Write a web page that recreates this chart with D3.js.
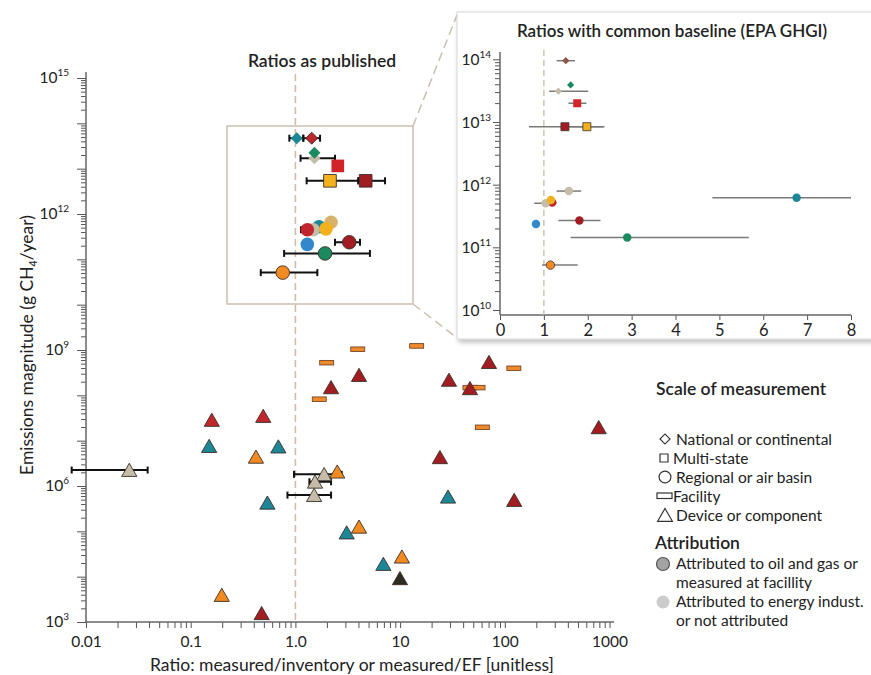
<!DOCTYPE html>
<html>
<head>
<meta charset="utf-8">
<script src="https://cdn.jsdelivr.net/npm/d3@7"></script>
<style>
  body { margin: 0; background: #fff; }
  svg text { font-family: Lato, "Noto Sans", sans-serif; fill: #222; }
</style>
</head>
<body>
<script>
// ---- data: "Ratios as published" (national, multi-state, regional) ----
const pubShape = ["diamond","diamond","diamond","diamond","square","square","square",
                  "circle","circle","circle","circle","circle","circle","circle","circle","circle"];
const pubGroup = ["teal","red","tan","green","brightred","yellow","darkred",
                  "teal","sandy","tan","red","yellow","blue","darkred","green","orange"];
const pubRatio = [1.03, 1.43, 1.52, 1.52, 2.54, 2.14, 4.69,
                  1.68, 2.19, 1.48, 1.30, 1.96, 1.30, 3.27, 1.92, 0.757];
const pubEmis  = [4.7e13, 4.7e13, 1.7e13, 2.25e13, 1.15e13, 5.4e12, 5.4e12,
                  5.25e11, 6.6e11, 4.5e11, 4.5e11, 4.7e11, 2.14e11, 2.38e11, 1.35e11, 5.1e10];
const pubLo    = [0.875, 1.19, 1.12, null, null, 1.28, 3.99,
                  null, null, null, 1.13, null, null, 2.39, 0.78, 0.467];
const pubHi    = [1.19, 1.72, 2.39, null, null, 3.99, 7.18,
                  null, null, null, 1.50, null, null, 4.14, 5.15, 1.62];
const pubAttr  = [false, true, false, false, false, true, true,
                  false, false, false, false, false, false, true, true, true];

// ---- data: facilities ----
const facRatio = [3.94, 14.4, 1.99, 1.69, 122, 46.5, 55.5, 61];
const facEmis  = [1.04e9, 1.23e9, 5.25e8, 8.2e7, 3.95e8, 1.48e8, 1.48e8, 1.97e7];

// ---- data: devices / components ----
const devGroup = ["red","red","teal","teal","orange","tan","teal","tan","orange","tan","tan",
                  "teal","orange","teal","orange","dark","orange","darkred",
                  "darkred","darkred","darkred","darkred","darkred","darkred","darkred","teal","darkred"];
const devRatio = [0.159, 0.493, 0.150, 0.687, 0.42, 0.0259, 0.54, 1.88, 2.51, 1.54, 1.51,
                  3.09, 4.05, 6.92, 10.4, 9.97, 0.198, 0.476,
                  2.19, 4.05, 70.6, 29.3, 46.5, 24.0, 123, 28.7, 789];
const devEmis  = [2.86e7, 3.5e7, 7.6e6, 7.4e6, 4.4e6, 2.25e6, 4.27e5, 1.81e6, 2.07e6, 1.24e6, 6.3e5,
                  9.4e4, 1.26e5, 1.9e4, 2.76e4, 9.2e3, 3.94e3, 1.56e3,
                  1.5e8, 2.8e8, 5.4e8, 2.19e8, 1.43e8, 4.3e6, 4.9e5, 5.8e5, 1.97e7];
const devLo    = [null,null,null,null,null,0.0073,null,0.97,null,1.36,0.84,
                  null,null,null,null,null,null,null, null,null,null,null,null,null,null,null,null];
const devHi    = [null,null,null,null,null,0.0388,null,2.77,null,2.19,2.19,
                  null,null,null,null,null,null,null, null,null,null,null,null,null,null,null,null];

// ---- data: inset, ratios with common baseline (EPA GHGI) ----
const insShape = ["diamond","diamond","diamond","square","square","square",
                  "circle","circle","circle","circle","circle","circle","circle","circle","circle"];
const insGroup = ["brown","tan","green","brightred","darkred","yellow",
                  "tan","teal","red","tan","yellow","blue","darkred","green","orange"];
const insRatio = [1.50, 1.33, 1.61, 1.76, 1.48, 1.98, 1.57, 6.76, 1.19, 1.04, 1.16, 0.82, 1.81, 2.90, 1.15];
const insEmis  = [9.5e13, 3.1e13, 3.9e13, 1.99e13, 8.4e12, 8.4e12, 7.9e11, 6.2e11, 5.2e11, 5.05e11,
                  5.7e11, 2.36e11, 2.67e11, 1.43e11, 5.2e10];
const insLo    = [1.29, 1.12, null, 1.56, 0.66, 1.60, 1.29, 4.84, null, 0.78, null, null, 1.33, 1.61, 0.96];
const insHi    = [1.71, 2.01, null, 1.97, 2.38, 2.35, 1.85, 8.0, null, 1.29, null, null, 2.29, 5.67, 1.77];
const insAttr  = [false, false, false, false, true, true, false, false, false, false, false, false, false, false, true];

// ---- tick labels ----
const xTickVals = [0.01, 0.1, 1, 10, 100, 1000];
const xTickText = ["0.01", "0.1", "1.0", "10", "100", "1000"];
const yLabelExp = [3, 6, 9, 12, 15];
const insXTicks = [0, 1, 2, 3, 4, 5, 6, 7, 8];
const insYExp   = [10, 11, 12, 13, 14];

const color = d3.scaleOrdinal()
  .domain(["teal","red","brightred","darkred","tan","green","yellow","blue","orange","brown","sandy","dark"])
  .range(["#1d8797","#c1262c","#d1232a","#a21d22","#c5bca9","#1b8a5e","#f3b11d","#3189cc","#f28a22","#8d5646","#d8b26a","#2e2b20"]);

const W = 871, H = 675;
const svg = d3.select("body").append("svg").attr("width", W).attr("height", H);

const defs = svg.append("defs");
defs.append("filter").attr("id", "shadow").attr("x", "-5%").attr("y", "-5%").attr("width", "115%").attr("height", "115%")
  .append("feDropShadow").attr("dx", 2).attr("dy", 3).attr("stdDeviation", 2.5)
  .attr("flood-color", "#000").attr("flood-opacity", 0.25);

// scales for the main panel
const x = d3.scaleLog().domain([0.01, 1000]).range([86, 609.5]);
const y = d3.scaleLog().domain([1e3, 1e15]).range([622, 78]);

function minorVals(lo, hi) {
  const out = [];
  for (let k = lo; k < hi; k++) for (let m = 2; m <= 9; m++) out.push(m * Math.pow(10, k));
  return out;
}
const shapeOf = {diamond: d3.symbolSquare, square: d3.symbolSquare, circle: d3.symbolCircle, triangle: d3.symbolTriangle};

function styleAxis(g) {
  g.selectAll("line").attr("stroke", "#555");
  g.select(".domain").remove();
}

// ---- main axes ----
svg.append("g").attr("transform", "translate(86,0)")
  .call(d3.axisLeft(y).tickValues(minorVals(3, 15)).tickSize(5).tickFormat("").tickSizeOuter(0)).call(styleAxis);
svg.append("g").attr("transform", "translate(86,0)")
  .call(d3.axisLeft(y).tickValues(d3.range(3, 16).map(k => Math.pow(10, k))).tickSize(9).tickFormat("").tickSizeOuter(0)).call(styleAxis);
svg.append("line").attr("x1", 86).attr("x2", 86).attr("y1", 72).attr("y2", y(1e3))
  .attr("stroke", "#666").attr("stroke-width", 1.5);

const yl = svg.append("g").selectAll("text").data(yLabelExp).join("text")
  .attr("x", 69).attr("y", d => y(Math.pow(10, d)) + 5).attr("text-anchor", "end")
  .attr("font-size", 15.5);
yl.append("tspan").text("10");
yl.append("tspan").attr("dy", -7).attr("font-size", 10).text(d => d);

svg.append("g").attr("transform", `translate(0,${y(1e3)})`)
  .call(d3.axisBottom(x).tickValues(minorVals(-2, 3)).tickSize(6).tickFormat("").tickSizeOuter(0)).call(styleAxis);
svg.append("g").attr("transform", `translate(0,${y(1e3)})`)
  .call(d3.axisBottom(x).tickValues(xTickVals).tickSize(6).tickPadding(8)
    .tickFormat((d, i) => xTickText[i]).tickSizeOuter(0))
  .call(styleAxis)
  .call(g => g.selectAll("text").attr("font-size", 15.5).attr("fill", "#222").attr("font-family", "Lato, sans-serif"));
svg.append("line").attr("x1", 86).attr("x2", 614).attr("y1", y(1e3)).attr("y2", y(1e3))
  .attr("stroke", "#666").attr("stroke-width", 1.5);

svg.append("text").attr("x", 352).attr("y", 671).attr("text-anchor", "middle").attr("font-size", 17.5)
  .text("Ratio: measured/inventory or measured/EF [unitless]");
const yt = svg.append("text").attr("transform", "translate(33,345) rotate(-90)")
  .attr("text-anchor", "middle").attr("font-size", 17.5);
yt.append("tspan").text("Emissions magnitude (g CH");
yt.append("tspan").attr("font-size", 10.5).attr("dy", 4).text("4");
yt.append("tspan").attr("dy", -4).text("/year)");

svg.append("text").attr("x", 322).attr("y", 67).attr("text-anchor", "middle").attr("font-size", 17.5)
  .attr("font-weight", 600).text("Ratios as published");

// reference line at ratio = 1
svg.append("line").attr("x1", x(1)).attr("x2", x(1)).attr("y1", 74).attr("y2", y(1e3))
  .attr("stroke", "#cdbda9").attr("stroke-width", 1.6).attr("stroke-dasharray", "7,4");

// zoom frame and connectors
svg.append("rect").attr("x", 227).attr("y", 126).attr("width", 186).attr("height", 178)
  .attr("fill", "none").attr("stroke", "#cbbfb0").attr("stroke-width", 1.5);
svg.append("line").attr("x1", 413).attr("y1", 126).attr("x2", 457).attr("y2", 15)
  .attr("stroke", "#cbbfb0").attr("stroke-width", 1.5).attr("stroke-dasharray", "9,5");
svg.append("line").attr("x1", 413).attr("y1", 304).attr("x2", 456).attr("y2", 337)
  .attr("stroke", "#cbbfb0").attr("stroke-width", 1.5).attr("stroke-dasharray", "9,5");

// ---- error bars helper ----
function errorBars(g, data, xs, ys, opt) {
  const d = data.filter(p => p.lo != null);
  g.selectAll(null).data(d).join("line")
    .attr("x1", p => xs(p.lo)).attr("x2", p => xs(p.hi))
    .attr("y1", p => ys(p.e)).attr("y2", p => ys(p.e))
    .attr("stroke", opt.stroke).attr("stroke-width", opt.width);
  if (opt.cap) {
    ["lo", "hi"].forEach(k => {
      g.selectAll(null).data(d).join("line")
        .attr("x1", p => xs(p[k])).attr("x2", p => xs(p[k]))
        .attr("y1", p => ys(p.e) - opt.cap).attr("y2", p => ys(p.e) + opt.cap)
        .attr("stroke", opt.stroke).attr("stroke-width", opt.width);
    });
  }
}
function markers(g, data, xs, ys, sizes, strokeW) {
  g.selectAll(null).data(data).join("path")
    .attr("d", p => d3.symbol(shapeOf[p.shape], sizes[p.shape])())
    .attr("transform", p => `translate(${xs(p.r)},${ys(p.e) + (p.shape === "triangle" ? sizes.triOff : 0)})` +
      (p.shape === "diamond" ? " rotate(45)" : ""))
    .attr("fill", p => color(p.group))
    .attr("stroke", p => p.attr ? "#3a3028" : "none")
    .attr("stroke-width", strokeW);
}

const pub = pubRatio.map((r, i) => ({r, e: pubEmis[i], lo: pubLo[i], hi: pubHi[i], shape: pubShape[i], group: pubGroup[i], attr: pubAttr[i]}));
const dev = devRatio.map((r, i) => ({r, e: devEmis[i], lo: devLo[i], hi: devHi[i], shape: "triangle", group: devGroup[i], attr: true}));
const fac = facRatio.map((r, i) => ({r, e: facEmis[i]}));
const ins = insRatio.map((r, i) => ({r, e: insEmis[i], lo: insLo[i], hi: insHi[i], shape: insShape[i], group: insGroup[i], attr: insAttr[i]}));

const mainSizes = {diamond: 72, square: 160, circle: 145, triangle: 100, triOff: 2};
const gMain = svg.append("g");

// facilities
gMain.selectAll(null).data(fac).join("rect")
  .attr("x", p => x(p.r) - 7).attr("y", p => y(p.e) - 2.3).attr("width", 14).attr("height", 4.6)
  .attr("fill", "#ef8a2c").attr("stroke", "#6a3a1a").attr("stroke-width", 0.8);

errorBars(gMain, dev, x, y, {stroke: "#111", width: 2, cap: 3.5});
markers(gMain, dev, x, y, mainSizes, 0.9);
errorBars(gMain, pub, x, y, {stroke: "#111", width: 2, cap: 3.5});
markers(gMain, pub, x, y, mainSizes, 0.9);

// ---- inset panel ----
svg.append("rect").attr("x", 457).attr("y", 12).attr("width", 430).attr("height", 327)
  .attr("fill", "#fff").attr("stroke", "#d6d6d6").attr("stroke-width", 1).attr("filter", "url(#shadow)");

const ix = d3.scaleLinear().domain([0, 8]).range([500, 851]);
const iy = d3.scaleLog().domain([1e10, 1e14]).range([310, 59.3]);

svg.append("text").attr("x", 672).attr("y", 37).attr("text-anchor", "middle").attr("font-size", 17)
  .attr("font-weight", 600).text("Ratios with common baseline (EPA GHGI)");

svg.append("g").attr("transform", "translate(500,0)")
  .call(d3.axisLeft(iy).tickValues(minorVals(10, 14)).tickSize(5).tickFormat("").tickSizeOuter(0)).call(styleAxis);
svg.append("g").attr("transform", "translate(500,0)")
  .call(d3.axisLeft(iy).tickValues(insYExp.map(k => Math.pow(10, k))).tickSize(7).tickFormat("").tickSizeOuter(0)).call(styleAxis);
svg.append("line").attr("x1", 500).attr("x2", 500).attr("y1", 52).attr("y2", 315)
  .attr("stroke", "#666").attr("stroke-width", 1.5);
const iyl = svg.append("g").selectAll("text").data(insYExp).join("text")
  .attr("x", 491).attr("y", d => iy(Math.pow(10, d)) + 6).attr("text-anchor", "end").attr("font-size", 15.5);
iyl.append("tspan").text("10");
iyl.append("tspan").attr("dy", -7).attr("font-size", 10).text(d => d);

svg.append("g").attr("transform", "translate(0,315)")
  .call(d3.axisBottom(ix).tickValues(insXTicks).tickSize(5).tickPadding(4).tickSizeOuter(0))
  .call(styleAxis)
  .call(g => g.selectAll("text").attr("font-size", 16.5).attr("fill", "#222").attr("font-family", "Lato, sans-serif"));
svg.append("line").attr("x1", 500).attr("x2", 851).attr("y1", 315).attr("y2", 315)
  .attr("stroke", "#666").attr("stroke-width", 1.5);

svg.append("line").attr("x1", ix(1)).attr("x2", ix(1)).attr("y1", 50).attr("y2", 315)
  .attr("stroke", "#cdbda9").attr("stroke-width", 1.4).attr("stroke-dasharray", "6,4");

const gIns = svg.append("g");
errorBars(gIns, ins, ix, iy, {stroke: "#7a7a7a", width: 1.5, cap: 0});
markers(gIns, ins, ix, iy, {diamond: 26, square: 64, circle: 56, triangle: 40, triOff: 0}, 0.8);

// ---- legend ----
const lg = svg.append("g");
lg.append("text").attr("x", 656).attr("y", 395).attr("font-size", 17.5).attr("font-weight", 600).text("Scale of measurement");
const scaleItems = ["National or continental", "Multi-state", "Regional or air basin", "Facility", "Device or component"];
const scaleShapes = ["diamond", "square", "circle", "facility", "triangle"];
const legendSym = {diamond: 50, square: 64, circle: 110, triangle: 95};
scaleItems.forEach((t, i) => {
  const cy = 439 + i * 19;
  const s = scaleShapes[i];
  if (s === "facility") {
    lg.append("rect").attr("x", 657).attr("y", cy - 3).attr("width", 15).attr("height", 5.5)
      .attr("fill", "none").attr("stroke", "#333").attr("stroke-width", 1.2);
  } else {
    lg.append("path").attr("d", d3.symbol(shapeOf[s], legendSym[s])())
      .attr("transform", `translate(${s === "square" ? 664 : 665},${cy + (s === "triangle" ? 2 : 0)})` + (s === "diamond" ? " rotate(45)" : ""))
      .attr("fill", "none").attr("stroke", "#333").attr("stroke-width", 1.2);
  }
  lg.append("text").attr("x", s === "square" || s === "facility" ? 673 : 676).attr("y", cy + 6)
    .attr("font-size", 15.5).text(t);
});
lg.append("text").attr("x", 655).attr("y", 549).attr("font-size", 17.5).attr("font-weight", 600).text("Attribution");
const attrLines = [["Attributed to oil and gas or", "measured at facillity"], ["Attributed to energy indust.", "or not attributed"]];
attrLines.forEach((lines, i) => {
  const cy = 564 + i * 38;
  lg.append("circle").attr("cx", 663).attr("cy", cy).attr("r", 6.5)
    .attr("fill", i === 0 ? "#a3a3a3" : "#cccccc")
    .attr("stroke", i === 0 ? "#555" : "none").attr("stroke-width", 1.2);
  lines.forEach((t, j) => lg.append("text").attr("x", 676).attr("y", cy + 5 + j * 19).attr("font-size", 15.5).text(t));
});
</script>
</body>
</html>
